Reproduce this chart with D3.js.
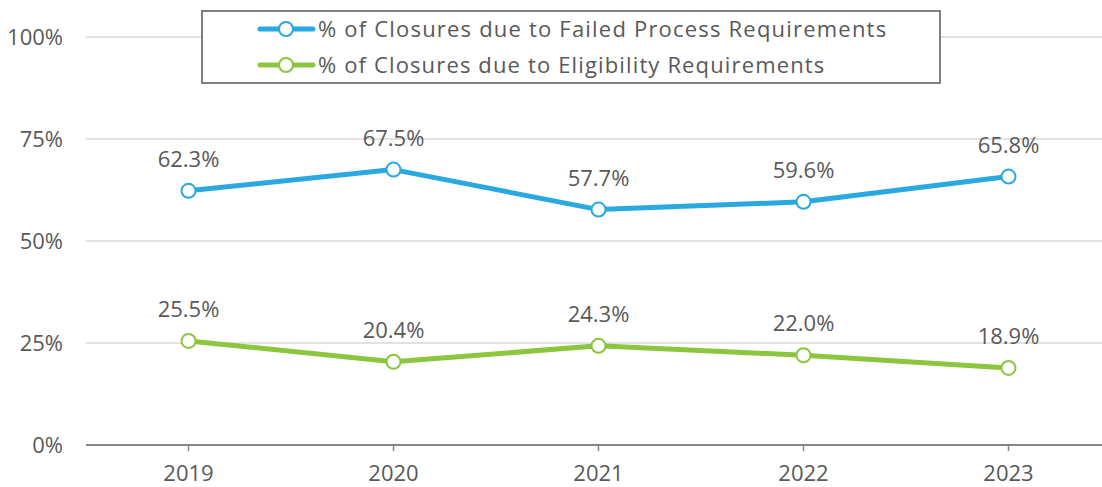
<!DOCTYPE html>
<html><head><meta charset="utf-8">
<script src="https://cdn.jsdelivr.net/npm/d3@7"></script>
<style>
body{margin:0;background:#fff;}
svg{display:block;font-family:"Open Sans",sans-serif;}
</style></head>
<body><svg id="c" width="1102" height="487"></svg>
<script>
const years = ["2019","2020","2021","2022","2023"];
const failedProcess = [62.3, 67.5, 57.7, 59.6, 65.8];
const eligibility = [25.5, 20.4, 24.3, 22.0, 18.9];
const yTicks = [0, 25, 50, 75, 100];
const seriesNames = ["% of Closures due to Failed Process Requirements", "% of Closures due to Eligibility Requirements"];
const seriesColors = ["#29a9e0", "#8cc63e"];

const svg = d3.select("#c");
const x = d3.scaleBand().domain(years).range([86, 1111]);
const y = d3.scaleLinear().domain([0, 100]).range([445, 37]);
const textColor = "#595959";

// gridlines
svg.append("g").selectAll("line").data(yTicks.filter(d => d > 0)).join("line")
  .attr("x1", 86).attr("x2", 1111)
  .attr("y1", d => y(d)).attr("y2", d => y(d))
  .attr("stroke", "#d9d9d9").attr("stroke-width", 1.5);

// y labels
svg.append("g").selectAll("text").data(yTicks).join("text")
  .attr("x", 63).attr("y", d => y(d)).attr("dy", "0.35em")
  .attr("text-anchor", "end").attr("font-size", 22).attr("fill", textColor)
  .text(d => d + "%");

// x axis
svg.append("line").attr("x1", 86).attr("x2", 1111).attr("y1", y(0)).attr("y2", y(0))
  .attr("stroke", "#868686").attr("stroke-width", 2);
svg.append("g").selectAll("line").data(years).join("line")
  .attr("x1", d => x(d) + x.bandwidth()/2).attr("x2", d => x(d) + x.bandwidth()/2)
  .attr("y1", y(0)).attr("y2", y(0) + 6)
  .attr("stroke", "#868686").attr("stroke-width", 1.5);
svg.append("g").selectAll("text").data(years).join("text")
  .attr("x", d => x(d) + x.bandwidth()/2).attr("y", 481)
  .attr("text-anchor", "middle").attr("font-size", 22).attr("fill", textColor)
  .text(d => d);

const series = [failedProcess, eligibility];
const line = d3.line().x((d, i) => x(years[i]) + x.bandwidth()/2).y(d => y(d));
series.forEach((vals, si) => {
  const g = svg.append("g");
  g.append("path").datum(vals).attr("d", line).attr("fill", "none")
    .attr("stroke", seriesColors[si]).attr("stroke-width", 5).attr("stroke-linejoin", "round");
  g.selectAll("circle").data(vals).join("circle")
    .attr("cx", (d, i) => x(years[i]) + x.bandwidth()/2).attr("cy", d => y(d)).attr("r", 7)
    .attr("fill", "#fff").attr("stroke", seriesColors[si]).attr("stroke-width", 2);
  g.selectAll("text").data(vals).join("text")
    .attr("x", (d, i) => x(years[i]) + x.bandwidth()/2).attr("y", d => y(d) - 24)
    .attr("text-anchor", "middle").attr("font-size", 22).attr("fill", textColor)
    .text(d => d.toFixed(1) + "%");
});

// legend
const lg = svg.append("g");
lg.append("rect").attr("x", 202).attr("y", 11).attr("width", 738).attr("height", 72)
  .attr("fill", "#fff").attr("stroke", "#7f7f7f").attr("stroke-width", 2);
seriesNames.forEach((name, i) => {
  const cy = 29 + i * 36;
  lg.append("line").attr("x1", 260).attr("x2", 313).attr("y1", cy).attr("y2", cy)
    .attr("stroke", seriesColors[i]).attr("stroke-width", 5).attr("stroke-linecap", "round");
  lg.append("circle").attr("cx", 286).attr("cy", cy).attr("r", 7)
    .attr("fill", "#fff").attr("stroke", seriesColors[i]).attr("stroke-width", 2);
  const t = lg.append("text").attr("x", 318).attr("y", cy).attr("dy", "0.35em")
    .attr("font-size", 22).attr("fill", textColor).text(name);
  const w = t.node().getComputedTextLength();
  t.attr("textLength", w * 1.11).attr("lengthAdjust", "spacing");
});
</script></body></html>
